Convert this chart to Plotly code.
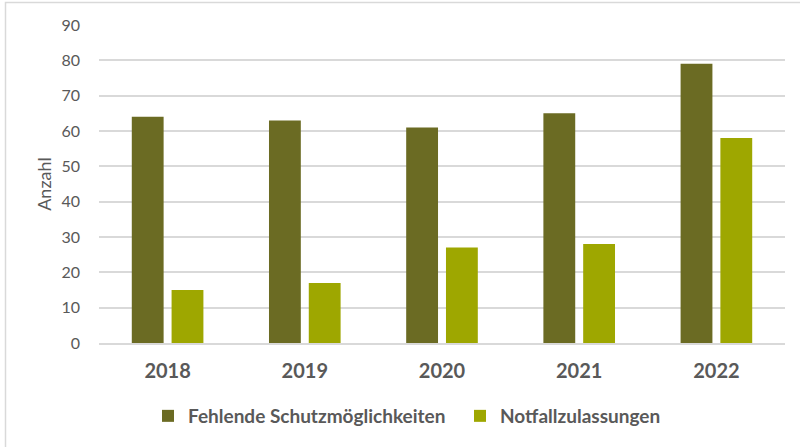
import plotly.graph_objects as go

years = ["2018", "2019", "2020", "2021", "2022"]
fehlende = [64, 63, 61, 65, 79]
notfall = [15, 17, 27, 28, 58]
y_ticks = [0, 10, 20, 30, 40, 50, 60, 70, 80, 90]

W, H = 800, 447
L, R, T, B = 99, 15, 25, 104
pw, ph = W - L - R, H - T - B

def px_x(x):
    return (x - L) / pw

def px_y(y):
    return (H - B - y) / ph

font_family = "Lato, 'Open Sans', sans-serif"
gray = "#595959"

fig = go.Figure()
fig.add_trace(go.Bar(x=years, y=fehlende, name="Fehlende Schutzmöglichkeiten",
                     marker=dict(color="#6B6B23", line=dict(width=0))))
fig.add_trace(go.Bar(x=years, y=notfall, name="Notfallzulassungen",
                     marker=dict(color="#9EA700", line=dict(width=0))))

fig.update_layout(
    width=W, height=H,
    margin=dict(l=L, r=R, t=T, b=B, pad=0, autoexpand=False),
    paper_bgcolor="white", plot_bgcolor="white",
    barmode="group", bargap=0.42, bargroupgap=0.2,
    font=dict(family=font_family, color=gray),
    showlegend=True,
    legend=dict(orientation="h", x=px_x(460), xanchor="center", y=px_y(416), yanchor="middle",
                font=dict(size=19, color=gray, weight="bold"),
                itemwidth=30, itemsizing="constant", traceorder="normal",
                entrywidth=267, entrywidthmode="pixels"),
    xaxis=dict(showgrid=False, showline=True, linecolor="#D9D9D9", linewidth=1.5,
               ticks="", tickfont=dict(size=20, color=gray, weight="bold"),
               ticklabelstandoff=9, automargin=False),
    yaxis=dict(range=[0, 90], tickvals=y_ticks, showgrid=True, gridcolor="#D9D9D9",
               gridwidth=1.5, zeroline=False, showline=False, ticks="",
               tickfont=dict(size=16, color=gray), ticklabelstandoff=18, automargin=False,
               title=dict(text="Anzahl", font=dict(size=18, color=gray), standoff=5)),
    shapes=[dict(type="rect", xref="paper", yref="paper",
                 x0=px_x(5.5), x1=px_x(805), y0=px_y(452), y1=px_y(2.5),
                 line=dict(color="#D9D9D9", width=1.5), fillcolor="rgba(0,0,0,0)",
                 layer="below")],
)

fig.write_html("out.html", config={"displayModeBar": False},
               post_script="document.body.style.margin='0';document.body.style.overflow='hidden';")
